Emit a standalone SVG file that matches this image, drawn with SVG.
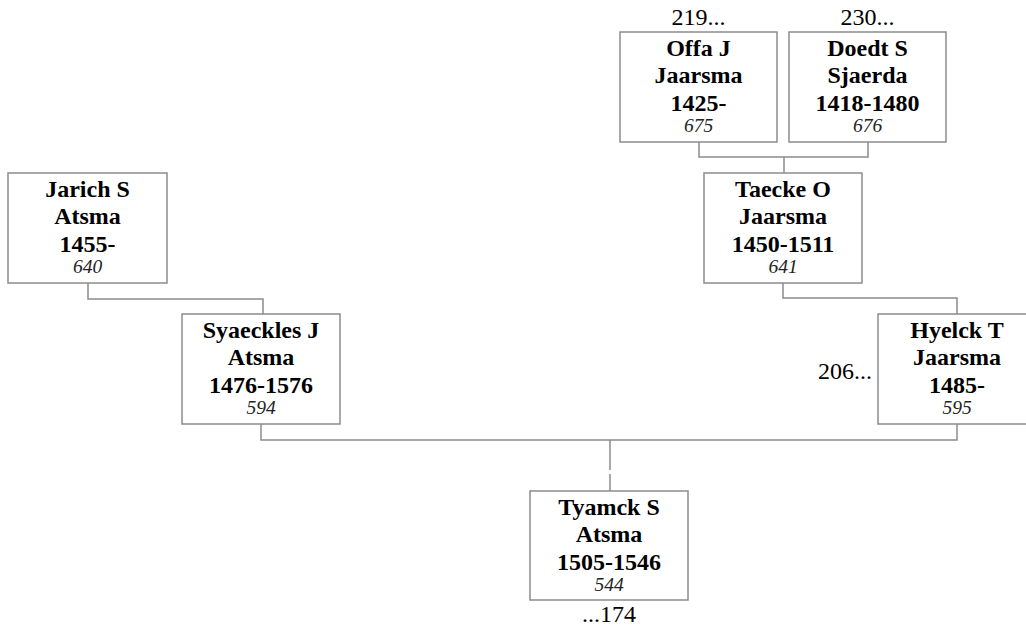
<svg xmlns="http://www.w3.org/2000/svg" width="1026" height="626" viewBox="0 0 1026 626">
<style>
.box{fill:#fff;stroke:#8c8c8c;stroke-width:1.5}
.ln{fill:none;stroke:#8c8c8c;stroke-width:1.5}
.n{font-family:"Liberation Serif","Times New Roman",serif;font-size:24px;font-weight:bold;text-anchor:middle;fill:#000}
.id{font-family:"Liberation Serif","Times New Roman",serif;font-size:19.5px;font-style:italic;text-anchor:middle;fill:#222}
.ext{font-family:"Liberation Serif","Times New Roman",serif;font-size:24px;fill:#000}
</style>
<rect width="1026" height="626" fill="#fff"/>
<g id="connectors">
<path class="ln" d="M699,142 V157 H868 V142 M784,157 V173"/>
<path class="ln" d="M783,283 V298 H957 V314"/>
<path class="ln" d="M88,283 V299 H263 V314"/>
<path class="ln" d="M261,424 V440 H957 V424 M610,440 V470 M610,474 V491"/>
</g>
<g id="offa">
<rect class="box" x="620" y="32" width="157" height="110"/>
<text class="n" x="698.5" y="56">Offa J</text>
<text class="n" x="698.5" y="83">Jaarsma</text>
<text class="n" x="698.5" y="110.5">1425-</text>
<text class="id" x="698.5" y="132">675</text>
<text class="ext" x="698.5" y="25" text-anchor="middle">219...</text>
</g>
<g id="doedt">
<rect class="box" x="789" y="32" width="157" height="110"/>
<text class="n" x="867.5" y="56">Doedt S</text>
<text class="n" x="867.5" y="83">Sjaerda</text>
<text class="n" x="867.5" y="110.5">1418-1480</text>
<text class="id" x="867.5" y="132">676</text>
<text class="ext" x="867.5" y="25" text-anchor="middle">230...</text>
</g>
<g id="taecke">
<rect class="box" x="704" y="173" width="158" height="110"/>
<text class="n" x="783" y="197">Taecke O</text>
<text class="n" x="783" y="224">Jaarsma</text>
<text class="n" x="783" y="251.5">1450-1511</text>
<text class="id" x="783" y="273">641</text>
</g>
<g id="jarich">
<rect class="box" x="8" y="173" width="159" height="110"/>
<text class="n" x="87.5" y="197">Jarich S</text>
<text class="n" x="87.5" y="224">Atsma</text>
<text class="n" x="87.5" y="251.5">1455-</text>
<text class="id" x="87.5" y="273">640</text>
</g>
<g id="syaeckles">
<rect class="box" x="182" y="314" width="158" height="110"/>
<text class="n" x="261" y="338">Syaeckles J</text>
<text class="n" x="261" y="365">Atsma</text>
<text class="n" x="261" y="392.5">1476-1576</text>
<text class="id" x="261" y="414">594</text>
</g>
<g id="hyelck">
<rect class="box" x="878" y="314" width="158" height="110"/>
<text class="n" x="957" y="338">Hyelck T</text>
<text class="n" x="957" y="365">Jaarsma</text>
<text class="n" x="957" y="392.5">1485-</text>
<text class="id" x="957" y="414">595</text>
<text class="ext" x="872" y="379" text-anchor="end">206...</text>
</g>
<g id="tyamck">
<rect class="box" x="530" y="491" width="158" height="109"/>
<text class="n" x="609" y="515">Tyamck S</text>
<text class="n" x="609" y="542">Atsma</text>
<text class="n" x="609" y="569.5">1505-1546</text>
<text class="id" x="609" y="590.5">544</text>
<text class="ext" x="609" y="622" text-anchor="middle">...174</text>
</g>
</svg>
